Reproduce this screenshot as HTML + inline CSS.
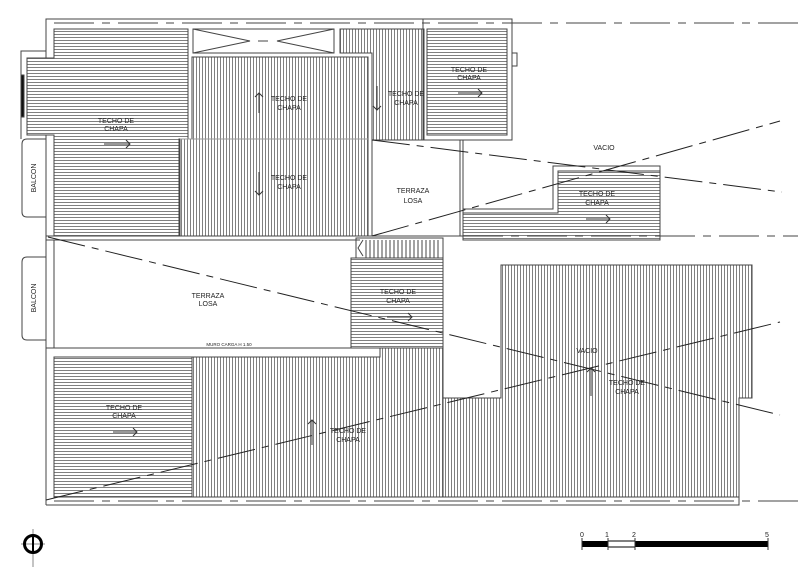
<!DOCTYPE html>
<html><head><meta charset="utf-8"><style>
html,body{margin:0;padding:0;background:#fff;}
svg{display:block;}
text{font-family:"Liberation Sans",sans-serif;font-size:7px;fill:#222;text-anchor:middle;}
</style></head><body>
<svg width="798" height="574" viewBox="0 0 798 574" xmlns="http://www.w3.org/2000/svg">
<defs>
<pattern id="h" width="4" height="3" patternUnits="userSpaceOnUse"><rect width="4" height="3" fill="#fff"/><line x1="0" y1="1.5" x2="4" y2="1.5" stroke="#808080" stroke-width="1"/></pattern>
<pattern id="v" width="3" height="4" patternUnits="userSpaceOnUse"><rect width="3" height="4" fill="#fff"/><line x1="1.5" y1="0" x2="1.5" y2="4" stroke="#808080" stroke-width="1"/></pattern>
</defs>
<g stroke="#444" stroke-width="1" fill="none">
<polyline points="21,139 21,51 46,51 46,19 512,19 512,140"/>
<line x1="46" y1="19" x2="46" y2="51"/>
<line x1="54" y1="23" x2="798" y2="23" stroke-dasharray="40,8,8,8"/>
<path d="M46,139 H27 Q22,139 22,144 V212 Q22,217 27,217 H46"/>
<path d="M46,257 H27 Q22,257 22,262 V335 Q22,340 27,340 H46"/>
<line x1="46" y1="51" x2="46" y2="505"/>
<line x1="54" y1="240" x2="54" y2="348"/>
<rect x="21" y="75" width="3" height="42" fill="#111"/>
</g>
<path d="M54,29 H188 V139 H179 V236 H54 V135 H27 V58 H54 Z" fill="url(#h)" stroke="#444"/>
<g stroke="#444" fill="none"><rect x="193" y="29" width="141" height="24"/>
<polyline points="193,29 250,41 193,53"/><polyline points="334,29 277,41 334,53"/><line x1="258" y1="41" x2="268" y2="41"/></g>
<path d="M192,57 H368 V236 H180 V139 H192 Z" fill="url(#v)" stroke="#444"/>
<line x1="180" y1="139" x2="368" y2="139" stroke="#999"/>
<path d="M340,29 H424 V140 H372 V53 H340 Z" fill="url(#v)" stroke="#444"/>
<line x1="372" y1="53" x2="372" y2="236" stroke="#444"/>
<rect x="423" y="19" width="89" height="121" fill="none" stroke="#444"/>
<rect x="427" y="29" width="80" height="106" fill="url(#h)" stroke="#444"/>
<rect x="512" y="53" width="5" height="13" fill="none" stroke="#444"/>
<line x1="460" y1="140" x2="460" y2="236" stroke="#444"/><line x1="463" y1="140" x2="463" y2="209" stroke="#444"/>
<path d="M463,209 H553 V166 H660 V240 H463 Z" fill="none" stroke="#444"/>
<path d="M463,213 H558 V171 H660 V240 H463 Z" fill="url(#h)" stroke="#444"/>
<line x1="46" y1="236" x2="463" y2="236" stroke="#444"/>
<line x1="46" y1="240" x2="360" y2="240" stroke="#444"/>
<line x1="463" y1="236" x2="798" y2="236" stroke="#444" stroke-dasharray="40,8,8,8"/>
<g stroke="#444" fill="none"><rect x="356" y="238" width="87" height="20"/>
<path d="M363,240 L358,248 L363,256"/>
<path d="M366,240 V258 M370,240 V258 M374,240 V258 M378,240 V258 M382,240 V258 M386,240 V258 M390,240 V258 M394,240 V258 M398,240 V258 M402,240 V258 M406,240 V258 M410,240 V258 M414,240 V258 M418,240 V258 M422,240 V258 M426,240 V258 M430,240 V258 M434,240 V258 M438,240 V258"/></g>
<rect x="351" y="258" width="92" height="90" fill="url(#h)" stroke="#444"/>
<path d="M380,348 H443 V398 H501 V265 H752 V398 H739 V497 H54 V357 H380 Z" fill="url(#v)" stroke="#444"/>
<rect x="54" y="357" width="138" height="140" fill="url(#h)" stroke="#444"/>
<line x1="443" y1="348" x2="443" y2="497" stroke="#444"/>
<polyline points="46,348 380,348 380,357" fill="none" stroke="#444"/>
<polyline points="46,505 739,505 739,497" fill="none" stroke="#444"/>
<line x1="54" y1="501" x2="798" y2="501" stroke="#444" stroke-dasharray="40,8,8,8"/>
<g stroke="#222" stroke-width="1" stroke-dasharray="38,7,7,7" fill="none">
<line x1="372" y1="140" x2="782" y2="192"/>
<line x1="372" y1="236" x2="780" y2="121"/>
<line x1="48" y1="237" x2="780" y2="415"/>
<line x1="46" y1="500" x2="780" y2="322"/>
</g>
<g stroke="#333" fill="none" stroke-width="1">
<path d="M104,144 H130 M126,140 L130,144 L126,148"/>
<path d="M259,93 V113 M255,97 L259,93 L263,97"/>
<path d="M259,172 V195 M255,191 L259,195 L263,191"/>
<path d="M377,86 V110 M373,106 L377,110 L381,106"/>
<path d="M458,93 H482 M478,89 L482,93 L478,97"/>
<path d="M586,219 H610 M606,215 L610,219 L606,223"/>
<path d="M387,317 H412 M408,313 L412,317 L408,321"/>
<path d="M113,432 H137 M133,428 L137,432 L133,436"/>
<path d="M312,420 V445 M308,424 L312,420 L316,424"/>
<path d="M591,368 V396 M587,372 L591,368 L595,372"/>
</g>
<text x="116" y="123">TECHO DE</text><text x="116" y="131">CHAPA</text>
<text x="289" y="101">TECHO DE</text><text x="289" y="110">CHAPA</text>
<text x="289" y="180">TECHO DE</text><text x="289" y="189">CHAPA</text>
<text x="406" y="96">TECHO DE</text><text x="406" y="105">CHAPA</text>
<text x="469" y="72">TECHO DE</text><text x="469" y="80">CHAPA</text>
<text x="604" y="150">VACIO</text>
<text x="413" y="193">TERRAZA</text><text x="413" y="203">LOSA</text>
<text x="597" y="196">TECHO DE</text><text x="597" y="205">CHAPA</text>
<text x="208" y="298">TERRAZA</text><text x="208" y="306">LOSA</text>
<text x="398" y="294">TECHO DE</text><text x="398" y="303">CHAPA</text>
<text x="229" y="346" style="font-size:4.5px">MURO CARGA H 1.50</text>
<text x="587" y="353">VACIO</text>
<text x="627" y="385">TECHO DE</text><text x="627" y="394">CHAPA</text>
<text x="124" y="410">TECHO DE</text><text x="124" y="418">CHAPA</text>
<text x="348" y="433">TECHO DE</text><text x="348" y="442">CHAPA</text>
<text transform="translate(36,178) rotate(-90)">BALCON</text>
<text transform="translate(36,298) rotate(-90)">BALCON</text>
<g><line x1="33" y1="529" x2="33" y2="567" stroke="#888" stroke-width="1"/><line x1="21" y1="544" x2="45" y2="544" stroke="#888" stroke-width="1"/>
<circle cx="33" cy="544" r="8.5" fill="none" stroke="#000" stroke-width="3"/>
<line x1="33" y1="536" x2="33" y2="552" stroke="#000" stroke-width="2"/></g>
<rect x="582" y="541" width="26" height="6" fill="#000"/>
<rect x="608" y="541" width="27" height="6" fill="#fff" stroke="#000"/>
<rect x="635" y="541" width="133" height="6" fill="#000"/>
<g stroke="#333"><line x1="582" y1="538" x2="582" y2="550"/><line x1="608" y1="538" x2="608" y2="550"/><line x1="635" y1="538" x2="635" y2="550"/><line x1="768" y1="538" x2="768" y2="550"/></g>
<g style="font-size:5px"><text x="582" y="537">0</text><text x="607" y="537">1</text><text x="634" y="537">2</text><text x="767" y="537">5</text></g>
</svg>
</body></html>
